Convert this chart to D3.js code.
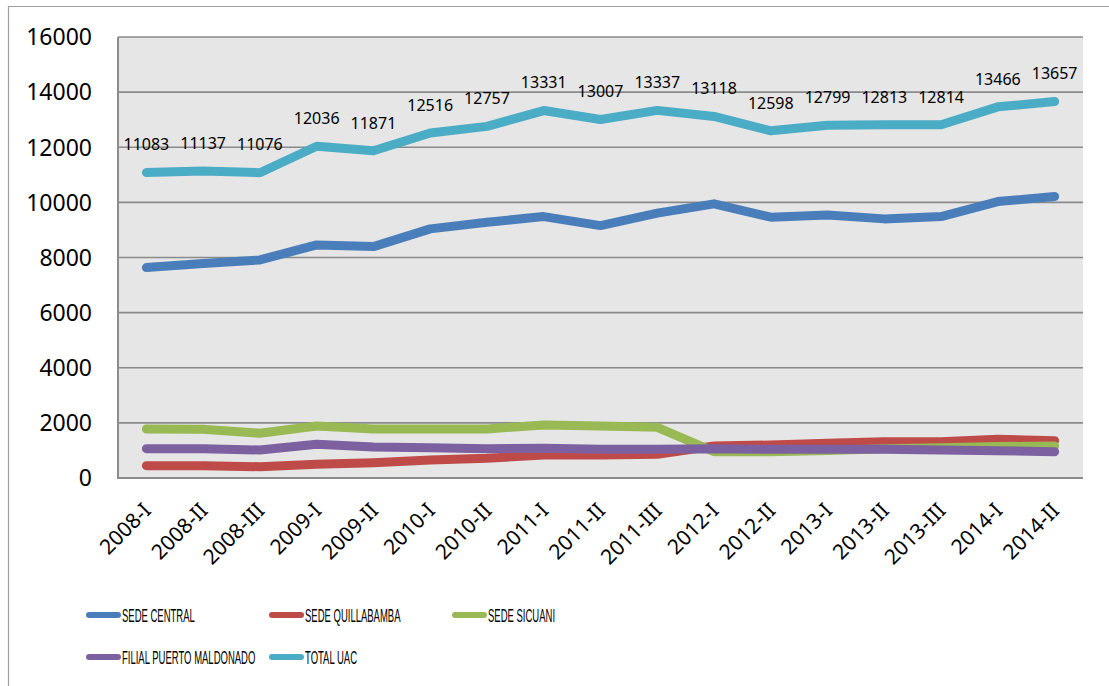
<!DOCTYPE html>
<html lang="es">
<head>
<meta charset="utf-8">
<title>Matriculados UAC 2008-2014</title>
<style>
  body { margin: 0; background: #fff; }
  svg { display: block; }
  .grid line { stroke: #8a8a8a; stroke-width: 1.6px; }
  .series path { fill: none; stroke-width: 9px; stroke-linecap: round; stroke-linejoin: round; }
  .ylab, .xlab, .dlab { font-family: "Noto Sans", sans-serif; fill: #000; }
  .legend text { font-family: "Liberation Sans", Arial, sans-serif; font-size: 19px; fill: #000; }
</style>
</head>
<body>
<svg id="chart" width="1109" height="686"></svg>
<script src="https://cdn.jsdelivr.net/npm/d3@7"></script>
<script>

var periods = ["2008-I","2008-II","2008-III","2009-I","2009-II","2010-I","2010-II","2011-I",
               "2011-II","2011-III","2012-I","2012-II","2013-I","2013-II","2013-III","2014-I","2014-II"];

var sedeCentral   = [7634, 7786, 7913, 8457, 8396, 9038, 9281, 9485, 9158, 9608, 9946, 9462, 9546, 9401, 9485, 10030, 10211];
var sedeQuilla    = [447, 447, 410, 496, 556, 653, 714, 835, 835, 860, 1161, 1198, 1258, 1319, 1319, 1403, 1355];
var sedeSicuani   = [1778, 1767, 1622, 1887, 1778, 1778, 1778, 1924, 1887, 1840, 955, 955, 1000, 1060, 1100, 1140, 1161];
var filialPM      = [1064, 1064, 1016, 1222, 1125, 1100, 1064, 1076, 1040, 1040, 1064, 1040, 1040, 1040, 1016, 992, 955];
var totalUac      = [11083, 11137, 11076, 12036, 11871, 12516, 12757, 13331, 13007, 13337, 13118, 12598, 12799, 12813, 12814, 13466, 13657];

var yTicks = [0, 2000, 4000, 6000, 8000, 10000, 12000, 14000, 16000];

var series = [
  {name: "SEDE CENTRAL", values: sedeCentral, color: "#4a7ebb"},
  {name: "SEDE QUILLABAMBA", values: sedeQuilla, color: "#be4b48"},
  {name: "SEDE SICUANI", values: sedeSicuani, color: "#98b954"},
  {name: "FILIAL PUERTO MALDONADO", values: filialPM, color: "#7d60a0"},
  {name: "TOTAL UAC", values: totalUac, color: "#4bacc6"}
];

var svg = d3.select("#chart");
var plotLeft = 118, plotRight = 1083, plotTop = 37, plotBottom = 478;

var x = d3.scalePoint().domain(periods).range([plotLeft, plotRight]).padding(0.5);
var y = d3.scaleLinear().domain([0, 16000]).range([plotBottom, plotTop]);

// outer frame (only top and left edges show)
svg.append("path")
   .attr("d", "M8.5,686V6.5H1109")
   .attr("fill", "none").attr("stroke", "#a0a0a0").attr("stroke-width", 1.2);

// plot area
svg.append("rect")
   .attr("x", plotLeft).attr("y", plotTop)
   .attr("width", plotRight - plotLeft).attr("height", plotBottom - plotTop)
   .attr("fill", "#e6e6e6");

svg.append("g").attr("class", "grid")
   .selectAll("line").data(yTicks.slice(1)).enter().append("line")
   .attr("x1", plotLeft).attr("x2", plotRight)
   .attr("y1", function(d) { return y(d); })
   .attr("y2", function(d) { return y(d); });

// axes lines
svg.append("path")
   .attr("d", "M" + plotLeft + "," + plotTop + "V" + plotBottom + "H" + plotRight)
   .attr("fill", "none").attr("stroke", "#8c8c8c").attr("stroke-width", 2);

svg.append("g").selectAll("text").data(yTicks).enter().append("text")
   .attr("class", "ylab")
   .attr("x", 92).attr("y", function(d) { return y(d); })
   .attr("dy", "0.36em")
   .attr("text-anchor", "end")
   .attr("font-size", 23)
   .text(function(d) { return d; });

svg.append("g").selectAll("text").data(periods).enter().append("text")
   .attr("class", "xlab")
   .attr("font-size", 21)
   .attr("text-anchor", "end")
   .attr("transform", function(d) { return "translate(" + (x(d) + 6) + ",512) rotate(-45)"; })
   .text(function(d) { return d; });

var line = d3.line()
    .x(function(d, i) { return x(periods[i]); })
    .y(function(d) { return y(d); });

svg.append("g").attr("class", "series")
   .selectAll("path").data(series).enter().append("path")
   .attr("stroke", function(d) { return d.color; })
   .attr("d", function(d) { return line(d.values); });

// data labels on total
svg.append("g").selectAll("text").data(totalUac).enter().append("text")
   .attr("class", "dlab")
   .attr("font-size", 16)
   .attr("text-anchor", "middle")
   .attr("x", function(d, i) { return x(periods[i]); })
   .attr("y", function(d) { return y(d) - 28; })
   .attr("dy", "0.36em")
   .text(function(d) { return d; });

// legend
var legendPos = [[87, 615], [270, 615], [453, 615], [87, 657], [270, 657]];
var lg = svg.append("g").attr("class", "legend")
   .selectAll("g").data(series).enter().append("g")
   .attr("transform", function(d, i) { return "translate(" + legendPos[i][0] + "," + legendPos[i][1] + ")"; });

lg.append("line")
  .attr("x1", 2).attr("x2", 31).attr("y1", 0).attr("y2", 0)
  .attr("stroke", function(d) { return d.color; })
  .attr("stroke-width", 6).attr("stroke-linecap", "round");

lg.append("text")
  .attr("transform", "translate(35,0) scale(0.5,1)")
  .attr("dy", "0.36em")
  .text(function(d) { return d.name; });

</script>
</body>
</html>
